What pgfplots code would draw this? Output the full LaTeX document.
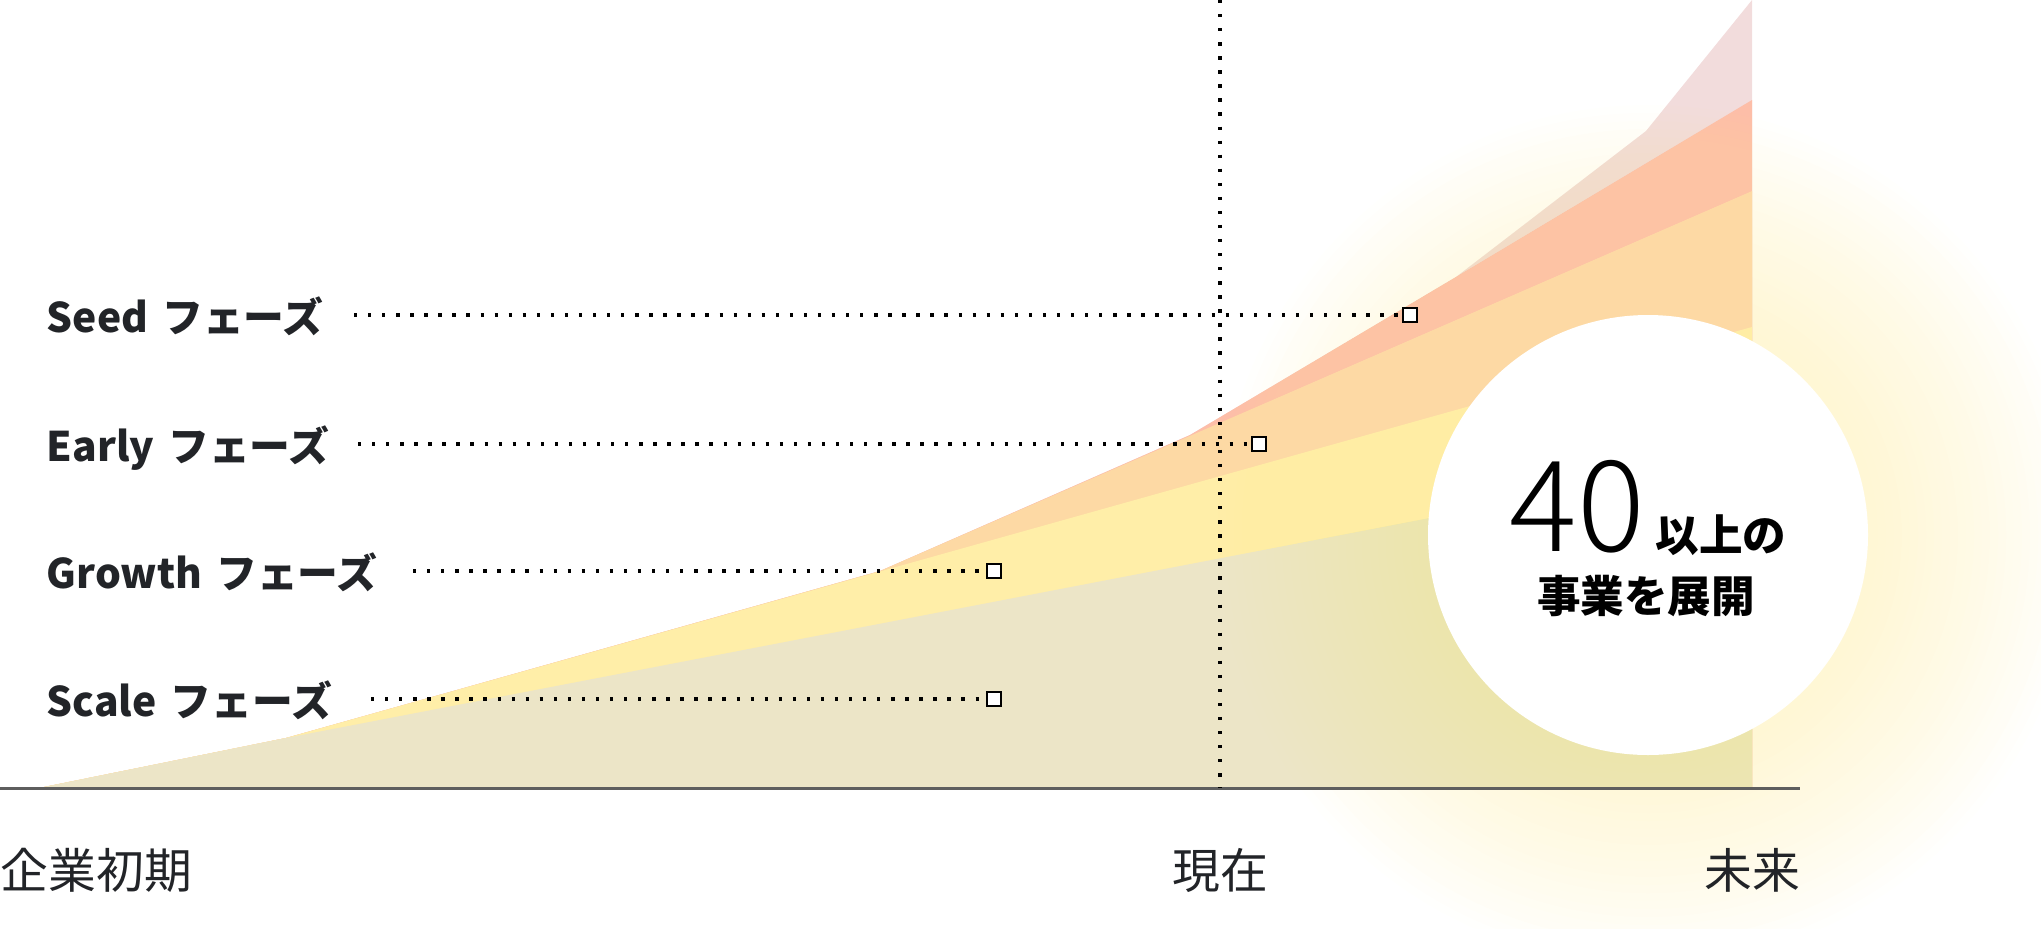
\documentclass[border=0pt]{standalone}
\usepackage{fontspec}
\usepackage{pgfplots}
\pgfplotsset{compat=1.18}
\setmainfont{Noto Sans CJK JP}
\IfFontExistsTF{Noto Sans CJK JP Light}{\newfontfamily\thinfont{Noto Sans CJK JP Light}}{\newfontfamily\thinfont{Noto Sans CJK JP}}
\definecolor{cpink}{HTML}{F2DCDC}
\definecolor{csalmon}{HTML}{FDBEA8}
\definecolor{corange}{HTML}{FDD9A4}
\definecolor{cyellow}{HTML}{FFEEA8}
\definecolor{cbeige}{HTML}{ECE5C7}
\definecolor{cglow}{HTML}{FFEDA4}
\definecolor{caxis}{HTML}{5E5E5E}
\definecolor{ctext}{HTML}{222428}
\tikzset{dotline/.style={black, line width=1pt, dash pattern=on 0.95pt off 3.05pt, line cap=butt}}
\begin{document}
\begin{tikzpicture}
\begin{axis}[scale only axis, width=204.1mm, height=92.8mm,
  xmin=0, xmax=2041, ymin=-140, ymax=788,
  axis lines=none, clip=false]
\coordinate (SW) at (rel axis cs:0,0);
\coordinate (NE) at (rel axis cs:1,1);
% stacked areas, back to front
\addplot[fill=cpink, draw=none] coordinates {(39,0) (286,50) (880,217) (1190,353) (1456,511) (1646,657) (1752,788) (1752,0)} -- cycle;
\addplot[fill=csalmon, draw=none] coordinates {(39,0) (286,50) (880,217) (1190,353) (1456,511) (1752,688) (1752,0)} -- cycle;
\addplot[fill=corange, draw=none] coordinates {(39,0) (286,50) (880,217) (1752,597) (1752,0)} -- cycle;
\addplot[fill=cyellow, draw=none] coordinates {(39,0) (286,50) (1752,461) (1752,0)} -- cycle;
\addplot[fill=cbeige, draw=none] coordinates {(39,0) (286,50) (1752,332) (1752,0)} -- cycle;
% glow: stacked translucent discs
\pgfplotsinvokeforeach{0,...,25}{
  \fill[cglow, fill opacity=0.023] (axis cs:1648,253) circle[radius={(43-0.8*#1)*1mm}];
}
% baseline
\addplot[caxis, line width=0.85pt] coordinates {(0,0) (1800,0)};
% current line
\addplot[dotline] coordinates {(1220,788) (1220,0)};
% phase leader lines
\addplot[dotline] coordinates {(354,473) (1400,473)};
\addplot[dotline] coordinates {(358,344) (1249,344)};
\addplot[dotline] coordinates {(413,217) (984,217)};
\addplot[dotline] coordinates {(371,89) (984,89)};
\addplot[only marks, mark=square*, mark size=2pt, mark options={fill=white, draw=black, line width=0.75pt}] coordinates {(1410,473) (1259,344) (994,217) (994,89)};
% circle
\fill[white] (axis cs:1648,253) circle[radius=22mm];
\node[anchor=base, inner sep=0] at (axis cs:1648,237) {{\thinfont\fontsize{36}{36}\selectfont 40}\hspace{3pt}{\bfseries\fontsize{12.4}{12}\selectfont 以上の}};
\node[anchor=base, inner sep=0] at (axis cs:1646,176) {\bfseries\fontsize{12.4}{12}\selectfont 事業を展開};
% phase labels
\node[anchor=base west, inner sep=0, text=ctext, font=\bfseries\fontsize{11.6}{12}\selectfont] at (axis cs:46,456) {Seed\hspace{0.35em}フェーズ};
\node[anchor=base west, inner sep=0, text=ctext, font=\bfseries\fontsize{11.6}{12}\selectfont] at (axis cs:46,327) {Early\hspace{0.35em}フェーズ};
\node[anchor=base west, inner sep=0, text=ctext, font=\bfseries\fontsize{11.6}{12}\selectfont] at (axis cs:46,200) {Growth\hspace{0.35em}フェーズ};
\node[anchor=base west, inner sep=0, text=ctext, font=\bfseries\fontsize{11.6}{12}\selectfont] at (axis cs:46,72) {Scale\hspace{0.35em}フェーズ};
% time labels
\node[anchor=base west, inner sep=0, text=ctext, font=\fontsize{13.6}{14}\selectfont] at (axis cs:0,-100) {企業初期};
\node[anchor=base, inner sep=0, text=ctext, font=\fontsize{13.6}{14}\selectfont] at (axis cs:1220,-100) {現在};
\node[anchor=base, inner sep=0, text=ctext, font=\fontsize{13.6}{14}\selectfont] at (axis cs:1752,-100) {未来};
\end{axis}
\pgfresetboundingbox
\path[use as bounding box] (SW) rectangle (NE);
\end{tikzpicture}
\end{document}
